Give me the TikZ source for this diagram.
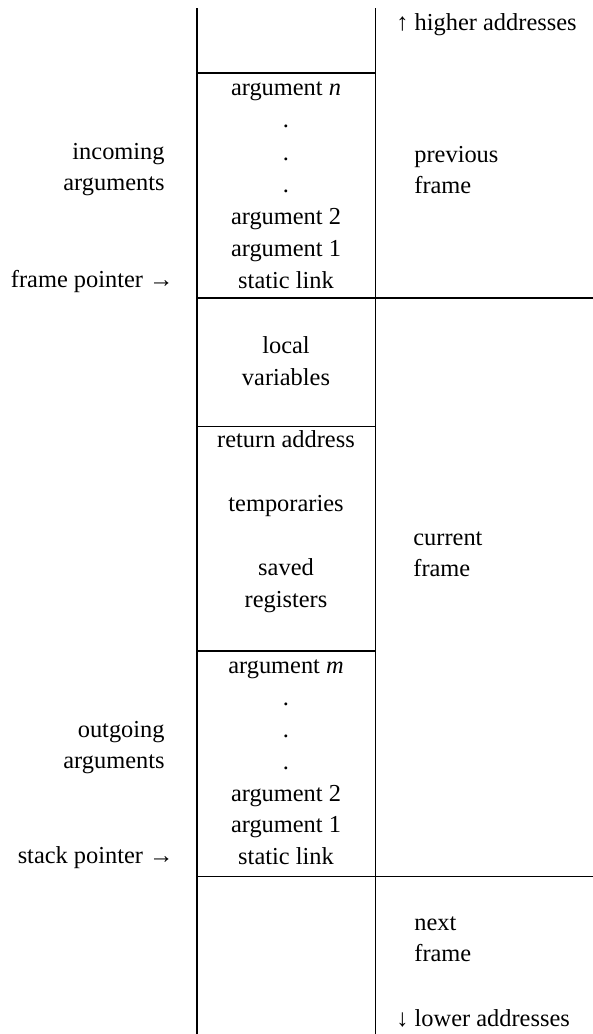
\documentclass[tikz,border=0pt]{standalone}
\usepackage{fontspec}
\setmainfont{Liberation Serif}

\begin{document}
\begin{tikzpicture}[x=0.5pt, y=-0.5pt,
		every node/.style={inner sep=0pt, font=\fontsize{12.2}{16}\selectfont},
		slot/.style={align=center},
		side/.style={anchor=west, align=left, font=\fontsize{12.2}{15.5}\selectfont},
		tag/.style={anchor=east, align=right, font=\fontsize{12.2}{15.5}\selectfont}]
			
			\useasboundingbox (0,0) rectangle (593,1034);
			
			% stack columns
			\draw[line width=1pt] (197,8) -- (197,1034);
			\draw[line width=0.5pt] (375,8) -- (375,1034);
			
			% frame boundaries
			\draw[line width=0.6pt] (197,73) -- (375,73);
			\draw[line width=0.6pt] (197,298) -- (593,298);
			\draw[line width=0.6pt] (197,426.5) -- (375,426.5);
			\draw[line width=0.6pt] (197,651) -- (375,651);
			\draw[line width=0.6pt] (197,876.5) -- (593,876.5);
			
			\node[anchor=west] (higher) at (396,25) {↑ higher addresses};
			\node[anchor=west] (lower) at (396,1018) {↓ lower addresses};
			
			\node[slot, font=\fontsize{12.2}{16.1}\selectfont] (argsin) at (286,185.5) {argument \textit{n}\\.\\.\\.\\argument 2\\argument 1\\static link};
			\node[slot] (locals) at (286,361) {local\\variables};
			\node[slot] (saved) at (286,522) {return address\\ \\temporaries\\ \\saved\\registers};
			\node[slot, font=\fontsize{12.2}{15.9}\selectfont] (argsout) at (286,762.5) {argument \textit{m}\\.\\.\\.\\argument 2\\argument 1\\static link};
			
			\node[tag] (incoming) at (165,170) {incoming\\arguments};
			\node[tag] (fp) at (174,282) {frame pointer →};
			\node[tag] (outgoing) at (165,747.5) {outgoing\\arguments};
			\node[tag] (sp) at (174,858) {stack pointer →};
			
			\node[side] (previous) at (414,170) {previous\\frame};
			\node[side] (current) at (413,554) {current\\frame};
			\node[side] (next) at (414,939) {next\\frame};
			
		\end{tikzpicture}
\end{document}
